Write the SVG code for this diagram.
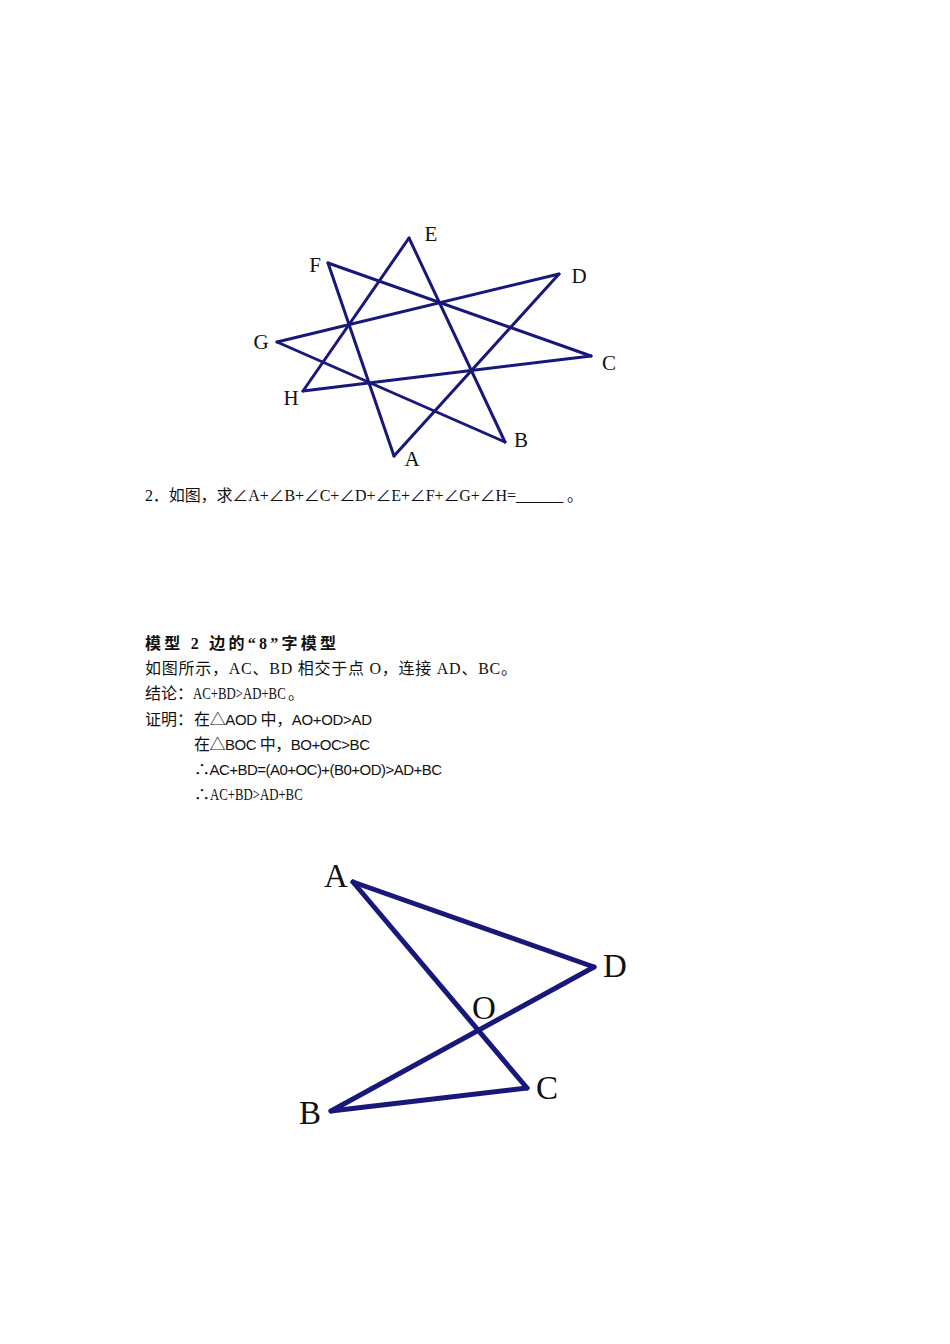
<svg xmlns="http://www.w3.org/2000/svg" width="950" height="1344" viewBox="0 0 950 1344">
<style>
.bg{fill:#ffffff}
.ln{stroke:#18187a;fill:none;stroke-linecap:round;stroke-linejoin:round}
.s1{stroke-width:3}
.s2{stroke-width:5}
.lbl{font-family:"Liberation Serif","Times New Roman",serif;fill:#111;text-anchor:middle}
.l1{font-size:21px}
.l2{font-size:33px}
.tx{font-family:"Liberation Serif","Noto Sans CJK SC",serif;font-size:16px;fill:#111}
.sans{font-family:"Liberation Sans","Noto Sans CJK SC",sans-serif;font-size:15px}
.b{font-weight:bold}
</style>
<rect class="bg" x="0" y="0" width="950" height="1344"/>

<g id="figure1">
  <g id="connectors1">
    <line class="ln s1" x1="394" y1="456" x2="328" y2="263"/>
    <line class="ln s1" x1="394" y1="456" x2="559" y2="274"/>
    <line class="ln s1" x1="409" y1="238" x2="303" y2="391"/>
    <line class="ln s1" x1="409" y1="238" x2="505" y2="442"/>
    <line class="ln s1" x1="328" y1="263" x2="591" y2="356"/>
    <line class="ln s1" x1="277" y1="342" x2="559" y2="274"/>
    <line class="ln s1" x1="277" y1="342" x2="505" y2="442"/>
    <line class="ln s1" x1="303" y1="391" x2="591" y2="356"/>
  </g>
  <g id="node-E"><text class="lbl l1" x="431" y="241">E</text></g>
  <g id="node-F"><text class="lbl l1" x="315" y="272">F</text></g>
  <g id="node-D"><text class="lbl l1" x="579" y="283">D</text></g>
  <g id="node-G"><text class="lbl l1" x="261" y="349">G</text></g>
  <g id="node-C"><text class="lbl l1" x="609" y="370">C</text></g>
  <g id="node-H"><text class="lbl l1" x="291" y="405">H</text></g>
  <g id="node-B"><text class="lbl l1" x="521" y="447">B</text></g>
  <g id="node-A"><text class="lbl l1" x="412" y="466">A</text></g>
</g>

<g id="question">
  <text class="tx" x="145" y="501" textLength="438" lengthAdjust="spacing">2．如图，求∠A+∠B+∠C+∠D+∠E+∠F+∠G+∠H=______ 。</text>
</g>

<g id="model2-text">
  <text class="tx b" x="145" y="649" textLength="191" lengthAdjust="spacing">模型 2 边的“8”字模型</text>
  <text class="tx" x="145" y="674" textLength="372" lengthAdjust="spacing">如图所示，AC、BD 相交于点 O，连接 AD、BC。</text>
  <text class="tx" x="145" y="699">结论：</text>
  <text class="tx" transform="translate(193,699) scale(0.8,1)" x="0" y="0">AC+BD&gt;AD+BC</text>
  <text class="tx" x="288" y="699">。</text>
  <text class="tx" x="145" y="725">证明：</text>
  <text class="tx" x="194" y="725" textLength="178" lengthAdjust="spacing">在△<tspan class="sans">AOD</tspan> 中，<tspan class="sans">AO+OD&gt;AD</tspan></text>
  <text class="tx" x="194" y="750" textLength="176" lengthAdjust="spacing">在△<tspan class="sans">BOC</tspan> 中，<tspan class="sans">BO+OC&gt;BC</tspan></text>
  <text class="tx" x="194" y="775" textLength="248" lengthAdjust="spacing">∴<tspan class="sans">AC+BD=(A0+OC)+(B0+OD)&gt;AD+BC</tspan></text>
  <text class="tx" x="194" y="800">∴</text>
  <text class="tx" transform="translate(210,800) scale(0.8,1)" x="0" y="0">AC+BD&gt;AD+BC</text>
</g>

<g id="figure2">
  <g id="connectors2">
    <line class="ln s2" x1="353" y1="882" x2="594" y2="967"/>
    <line class="ln s2" x1="353" y1="882" x2="527" y2="1088"/>
    <line class="ln s2" x1="331" y1="1111" x2="594" y2="967"/>
    <line class="ln s2" x1="331" y1="1111" x2="527" y2="1088"/>
  </g>
  <g id="node2-A"><text class="lbl l2" x="336" y="887">A</text></g>
  <g id="node2-D"><text class="lbl l2" x="615" y="977">D</text></g>
  <g id="node2-O"><text class="lbl l2" x="484" y="1019">O</text></g>
  <g id="node2-C"><text class="lbl l2" x="547" y="1099">C</text></g>
  <g id="node2-B"><text class="lbl l2" x="310" y="1124">B</text></g>
</g>
</svg>
